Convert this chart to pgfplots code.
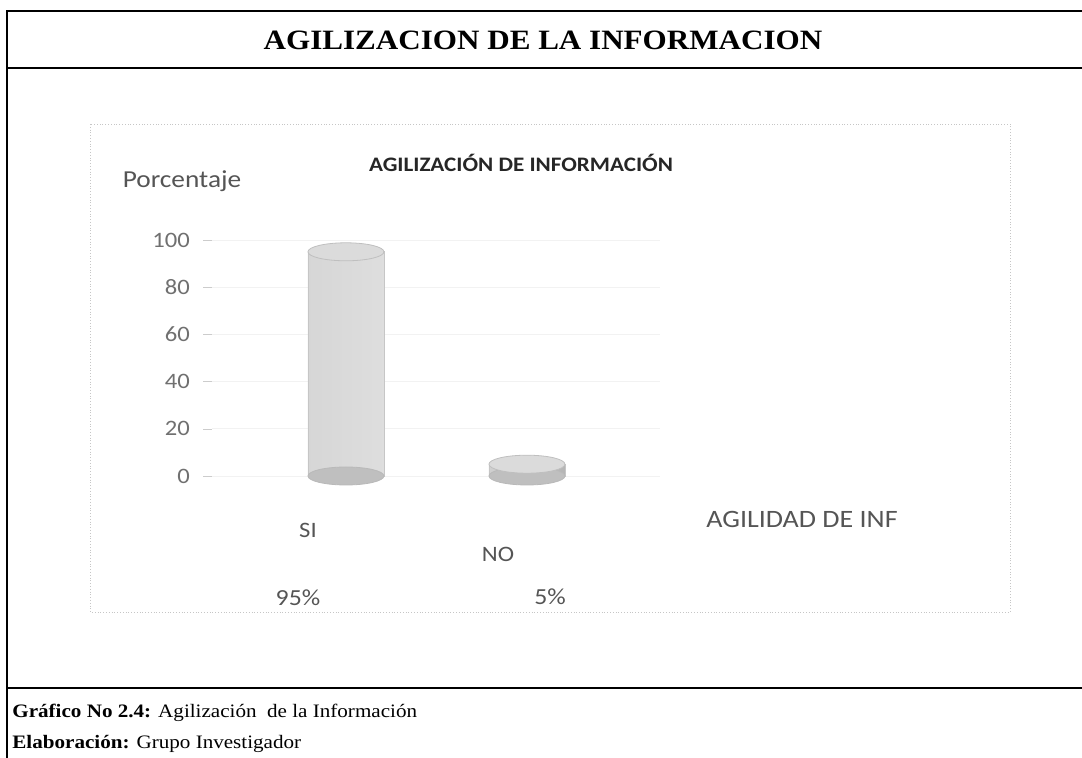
\documentclass[border=0pt]{standalone}
\usepackage{fontspec}
\setmainfont{Liberation Serif}[FakeStretch=1.11]
\newfontfamily\calfont{Carlito}[FakeStretch=1.12]
\usepackage{pgfplots}
\pgfplotsset{compat=1.18}
\pgfdeclareplotmark{cyltop}{\pgfpathellipse{\pgfpointorigin}{\pgfqpoint{19pt}{0pt}}{\pgfqpoint{0pt}{4.5pt}}\pgfusepathqfillstroke}
\definecolor{txtgray}{HTML}{555555}
\definecolor{ticktxt}{HTML}{707070}
\begin{document}
\begin{tikzpicture}
\begin{scope}[x=0.5pt,y=-0.5pt]
  \path[use as bounding box] (0,0) rectangle (1082,758);
  % frame
  \draw[line width=1pt] (7,758) -- (7,11) -- (1082,11);
  \draw[line width=1pt] (7,68) -- (1082,68);
  \draw[line width=1pt] (7,688) -- (1082,688);
  \node[font=\bfseries\fontsize{14}{16}\selectfont] at (543,40) {AGILIZACION DE LA INFORMACION};
  % chart area
  \draw[gray!45, densely dotted, line width=0.4pt] (90,124) rectangle (1010,612);
  \node[font=\calfont\bfseries\fontsize{10.3}{12}\selectfont, text=black!85] at (521,163) {AGILIZACIÓN DE INFORMACIÓN};
  \node[font=\calfont\fontsize{12.2}{14}\selectfont, text=txtgray] at (182,181) {Porcentaje};
  \node[font=\calfont\fontsize{11}{13}\selectfont, text=txtgray] at (308,530) {SI};
  \node[font=\calfont\fontsize{11}{13}\selectfont, text=txtgray] at (498,554) {NO};
  \node[font=\calfont\fontsize{11.5}{13}\selectfont, text=txtgray] at (298,598) {95\%};
  \node[font=\calfont\fontsize{11.5}{13}\selectfont, text=txtgray] at (550,597) {5\%};
  \node[font=\calfont\fontsize{12.5}{14}\selectfont, text=txtgray] at (802,519) {AGILIDAD DE INF};
  % caption
  \node[anchor=west, font=\fontsize{9.5}{11}\selectfont, inner sep=0pt] at (12,713) {\textbf{Gráfico No 2.4:} Agilización\ \ de la Información};
  \node[anchor=west, font=\fontsize{9.5}{11}\selectfont, inner sep=0pt] at (12,744) {\textbf{Elaboración:} Grupo Investigador};
\end{scope}
\begin{axis}[
  at={(106pt,-238pt)}, anchor=south west,
  scale only axis, width=224pt, height=118pt,
  xmin=-0.740, xmax=1.735, ymin=0, ymax=100,
  clip=false,
  axis lines*=left,
  axis line style={draw=none},
  xtick=\empty,
  ytick={0,20,40,60,80,100},
  tick align=outside, major tick length=4.5pt,
  tick style={gray!40},
  ymajorgrids, grid style={gray!10},
  /pgf/number format/assume math mode=true,
  yticklabel style={font=\calfont\fontsize{11}{13}\selectfont, text=ticktxt, xshift=-3pt},
]
% bottom ellipses
\addplot[only marks, mark=cyltop, mark options={fill=gray!50, draw=gray!55}] coordinates {(0,0) (1,0)};
% cylinder bodies
\addplot[ybar, bar width=38pt, bar shift=0pt, draw=gray!45, left color=gray!32, right color=gray!58, middle color=gray!22] coordinates {(0,95) (1,5)};
% top ellipses
\addplot[only marks, mark=cyltop, mark options={fill=gray!28, draw=gray!50}] coordinates {(0,95) (1,5)};
\end{axis}
\end{tikzpicture}
\end{document}
